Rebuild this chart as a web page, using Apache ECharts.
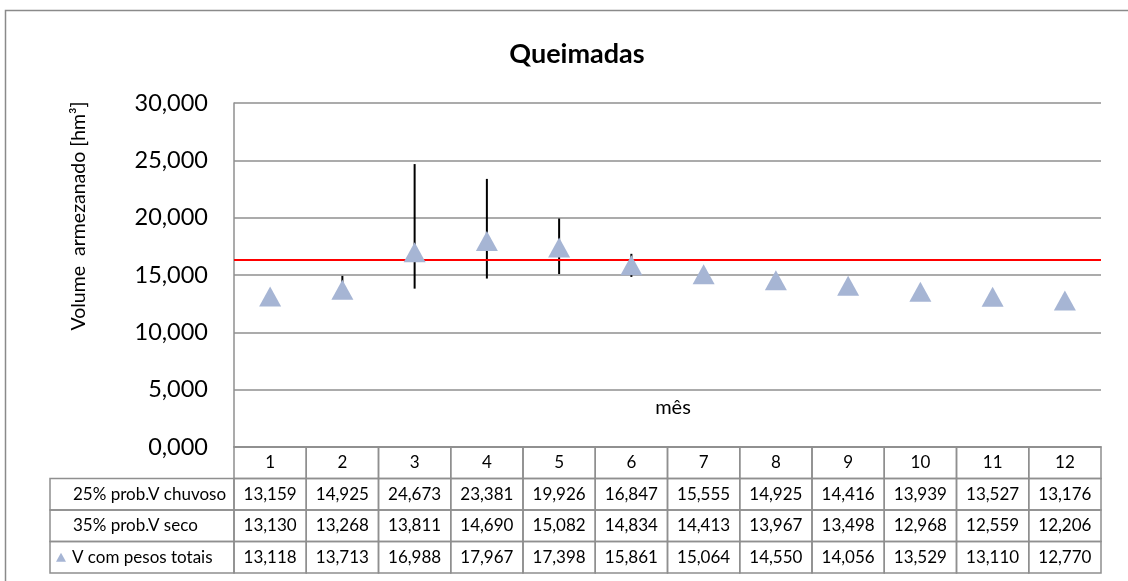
<!DOCTYPE html>
<html>
<head>
<meta charset="utf-8">
<title>Queimadas</title>
<script src="https://cdn.jsdelivr.net/npm/echarts@6/dist/echarts.min.js"></script>
<style>
    html, body { margin: 0; padding: 0; background: #fff; overflow: hidden; }
    #chart { width: 1128px; height: 581px; }
</style>
</head>
<body>
<div id="chart"></div>
<script>
// dados
const meses = ['1', '2', '3', '4', '5', '6', '7', '8', '9', '10', '11', '12'];
const vChuvoso = [13.159, 14.925, 24.673, 23.381, 19.926, 16.847, 15.555, 14.925, 14.416, 13.939, 13.527, 13.176];
const vSeco = [13.130, 13.268, 13.811, 14.690, 15.082, 14.834, 14.413, 13.967, 13.498, 12.968, 12.559, 12.206];
const vTotal = [13.118, 13.713, 16.988, 17.967, 17.398, 15.861, 15.064, 14.550, 14.056, 13.529, 13.110, 12.770];
const linhaReferencia = 16.35;
const nomesLinhas = ['', '25% prob.V chuvoso', '35% prob.V seco', 'V com pesos totais'];

const FONTE = 'Lato, "Open Sans", sans-serif';
const COR_TRIANGULO = '#a6b5d4';
const COR_GRADE = '#8f8f8f';

function fmt(v) {
    return v.toFixed(3).replace('.', ',');
}

// células da tabela: [coluna, linha, texto]
const celulas = [];
meses.forEach((m, i) => {
    celulas.push([i, 0, m]);
    celulas.push([i, 1, fmt(vChuvoso[i])]);
    celulas.push([i, 2, fmt(vSeco[i])]);
    celulas.push([i, 3, fmt(vTotal[i])]);
});

const barrasErro = meses.map((m, i) => [i, vSeco[i], vChuvoso[i]]);

const chart = echarts.init(document.getElementById('chart'));

const option = {
    animation: false,
    title: {
        text: 'Queimadas',
        left: 572,
        top: 36,
        textAlign: 'center',
        textStyle: { fontFamily: FONTE, fontSize: 27, fontWeight: 'bold', color: '#000' }
    },
    graphic: [
        {
            // moldura (só topo e esquerda aparecem no recorte)
            type: 'polyline',
            shape: { points: [[5.5, 600], [5.5, 10.5], [1140, 10.5]] },
            style: { fill: 'none', stroke: '#8a8a8a', lineWidth: 1.5 },
            silent: true
        },
        {
            type: 'text',
            x: 79, y: 216,
            rotation: Math.PI / 2,
            style: {
                text: 'Volume  armezanado [hm³]',
                font: '19.5px ' + FONTE,
                fill: '#000',
                align: 'center',
                verticalAlign: 'middle'
            }
        },
        {
            type: 'text',
            x: 673, y: 408,
            style: {
                text: 'mês',
                font: '20px ' + FONTE,
                fill: '#000',
                align: 'center',
                verticalAlign: 'middle'
            }
        }
    ],
    grid: [
        { left: 234, right: 27, top: 103, height: 344, containLabel: false },
        { left: 234, right: 27, top: 447, height: 126, containLabel: false }
    ],
    xAxis: [
        {
            type: 'category',
            gridIndex: 0,
            data: meses,
            boundaryGap: true,
            axisLine: { show: true, lineStyle: { color: COR_GRADE, width: 1.5 } },
            axisTick: { show: false },
            axisLabel: { show: false },
            splitLine: { show: false }
        },
        {
            type: 'category',
            gridIndex: 1,
            data: meses,
            boundaryGap: true,
            axisLine: { show: false },
            axisTick: { show: false },
            axisLabel: { show: false },
            splitLine: { show: false }
        }
    ],
    yAxis: [
        {
            type: 'value',
            gridIndex: 0,
            min: 0,
            max: 30,
            interval: 5,
            axisLine: { show: true, lineStyle: { color: COR_GRADE, width: 1.5 } },
            axisTick: { show: false },
            axisLabel: {
                fontFamily: FONTE,
                fontSize: 23.5,
                color: '#000',
                margin: 26,
                formatter: v => fmt(v)
            },
            splitLine: { show: true, lineStyle: { color: COR_GRADE, width: 1.5 } }
        },
        {
            type: 'category',
            gridIndex: 1,
            data: nomesLinhas,
            inverse: true,
            axisLine: { show: false },
            axisTick: { show: false },
            axisLabel: { show: false },
            splitLine: { show: false }
        }
    ],
    series: [
        {
            // barras entre V seco e V chuvoso
            type: 'custom',
            xAxisIndex: 0,
            yAxisIndex: 0,
            z: 2,
            data: barrasErro,
            renderItem: function (params, api) {
                const p1 = api.coord([api.value(0), api.value(1)]);
                const p2 = api.coord([api.value(0), api.value(2)]);
                return {
                    type: 'line',
                    shape: { x1: p1[0], y1: p1[1], x2: p2[0], y2: p2[1] },
                    style: { stroke: '#000', lineWidth: 2 }
                };
            }
        },
        {
            name: 'V com pesos totais',
            type: 'line',
            xAxisIndex: 0,
            yAxisIndex: 0,
            data: vTotal,
            z: 4,
            lineStyle: { width: 0, opacity: 0 },
            symbol: 'triangle',
            symbolSize: [22, 20],
            itemStyle: { color: COR_TRIANGULO },
            markLine: {
                silent: true,
                symbol: 'none',
                label: { show: false },
                z: 3,
                lineStyle: { color: '#ff0000', width: 2, type: 'solid' },
                data: [{ yAxis: linhaReferencia }]
            }
        },
        {
            // tabela de dados
            type: 'custom',
            xAxisIndex: 1,
            yAxisIndex: 1,
            data: celulas,
            renderItem: function (params, api) {
                const col = api.value(0);
                const row = api.value(1);
                const texto = celulas[params.dataIndex][2];
                const c = api.coord([col, row]);
                const s = api.size([1, 1]);
                const x0 = c[0] - s[0] / 2;
                const y0 = c[1] - s[1] / 2;
                const filhos = [
                    {
                        type: 'rect',
                        shape: { x: x0, y: y0, width: s[0], height: s[1] },
                        style: { fill: 'none', stroke: COR_GRADE, lineWidth: 1.5 }
                    },
                    {
                        type: 'text',
                        x: c[0], y: c[1],
                        style: {
                            text: texto,
                            font: '17px ' + FONTE,
                            fill: '#000',
                            align: 'center',
                            verticalAlign: 'middle'
                        }
                    }
                ];
                if (col === 0 && row > 0) {
                    const gx = params.coordSys.x;
                    const larg = 184;
                    filhos.push({
                        type: 'rect',
                        shape: { x: gx - larg, y: y0, width: larg, height: s[1] },
                        style: { fill: 'none', stroke: COR_GRADE, lineWidth: 1.5 }
                    });
                    filhos.push({
                        type: 'text',
                        x: gx - larg + (row === 3 ? 22 : 23), y: c[1],
                        style: {
                            text: nomesLinhas[row],
                            font: '17px ' + FONTE,
                            fill: '#000',
                            align: 'left',
                            verticalAlign: 'middle'
                        }
                    });
                    if (row === 3) {
                        const tx = gx - larg + 11;
                        filhos.push({
                            type: 'polygon',
                            shape: { points: [[tx - 5, c[1] + 4.5], [tx + 5, c[1] + 4.5], [tx, c[1] - 4.5]] },
                            style: { fill: COR_TRIANGULO }
                        });
                    }
                }
                return { type: 'group', children: filhos };
            }
        }
    ]
};

chart.setOption(option);
</script>
</body>
</html>
